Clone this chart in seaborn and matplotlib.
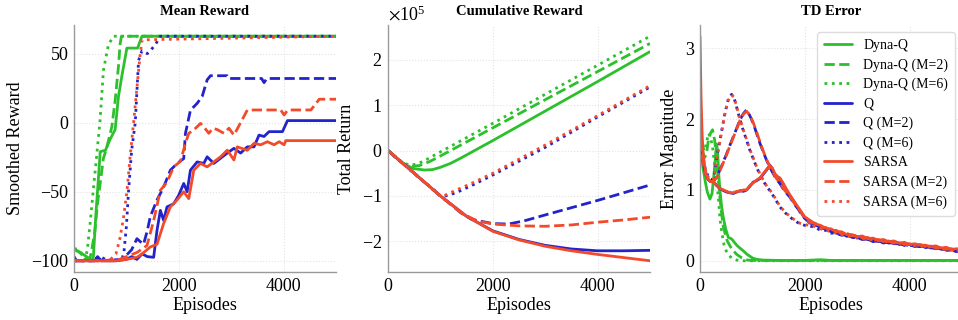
import matplotlib
matplotlib.use("Agg")
import matplotlib.pyplot as plt
import seaborn as sns
from matplotlib.ticker import ScalarFormatter

# ---------------- data ----------------
SERIES = ["Dyna-Q", "Dyna-Q (M=2)", "Dyna-Q (M=6)",
          "Q", "Q (M=2)", "Q (M=6)",
          "SARSA", "SARSA (M=2)", "SARSA (M=6)"]

# Panel 1: Mean Reward (smoothed)
mr_dyna_x = [0, 60, 120, 200, 280, 340, 370, 420, 470, 500, 600, 690, 785, 849, 912, 1009, 1213, 1296, 5000]
mr_dyna_y = [-91, -93, -94, -96, -98, -100, -97, -65, -38, -21, -20, -12, -5, 19, 33.5, 54, 54, 62.6, 62.6]
mr_dyna2_x = [0, 80, 160, 250, 300, 340, 400, 450, 500, 560, 625, 722, 785, 849, 880, 905, 5000]
mr_dyna2_y = [-92, -93, -96, -98, -99, -92, -78, -58, -44, -26, -18, -3, 16, 41, 57, 62.6, 62.6]
mr_dyna6_x = [0, 80, 150, 220, 260, 310, 370, 430, 498, 562, 658, 753, 5000]
mr_dyna6_y = [-91, -92, -95, -99, -90, -72, -48, -25, 2, 38, 56.5, 62.6, 62.6]
mr_q_x = [0, 50, 400, 450, 520, 800, 1000, 1100, 1200, 1300, 1400, 1520, 1584, 1648, 1711, 1775, 1903,
          1998, 2094, 2159, 2222, 2350, 2477, 2541, 2669, 2925, 3052, 3180, 3308, 3435, 3531, 3627,
          3722, 3978, 4074, 5000]
mr_q_y = [-97, -100, -100, -97, -100, -100, -99, -97, -99, -95, -97, -97.5, -78, -63.5, -70.8, -61, -58.7,
          -52.6, -44, -50, -34.4, -28.4, -29.5, -24.7, -29.5, -22, -18.6, -22, -17.5, -17.5, -9, -10,
          -6.5, -6.5, 1.5, 1.5]
mr_q2_x = [0, 400, 450, 520, 900, 1000, 1100, 1201, 1260, 1328, 1400, 1456, 1584, 1711, 1839, 1967, 2094,
           2127, 2222, 2350, 2446, 2541, 2605, 2925, 2950, 3580, 3627, 3680, 5000]
mr_q2_y = [-100, -100, -97, -100, -99, -96, -92, -84, -86, -88, -78, -68, -56, -46.6, -34.4, -29.6, -26,
           -7.7, 9, 14, 19, 31, 34, 34, 32, 32, 29, 32, 32]
mr_q6_x = [0, 300, 500, 600, 900, 950, 1000, 1040, 1100, 1169, 1232, 1296, 1400, 1456, 1560, 1648, 5000]
mr_q6_y = [-100, -100, -97, -99, -100, -95, -75, -50, -20, 0, 45, 52, 50, 52, 57, 62.6, 62.6]
mr_s_x = [0, 800, 1000, 1201, 1300, 1456, 1584, 1711, 1839, 1967, 2094, 2190, 2286, 2414, 2541, 2669,
          2797, 2925, 3052, 3116, 3308, 3435, 3563, 3691, 3818, 3914, 4010, 4042, 5000]
mr_s_y = [-100, -100, -99, -97.5, -95, -90, -88, -73, -61, -56, -50, -55, -34.4, -29.5, -32, -28.4,
          -24.7, -19.9, -27, -17.5, -20, -15, -16, -13.8, -16, -13.8, -16, -13, -13]
mr_s2_x = [0, 800, 1000, 1201, 1392, 1520, 1648, 1775, 1903, 2031, 2127, 2190, 2286, 2414, 2477, 2573,
           2650, 2733, 2861, 2957, 3052, 3180, 3308, 3946, 4010, 4080, 4521, 4681, 5000]
mr_s2_y = [-100, -100, -97, -94, -89, -71, -49, -43, -32, -28, -15, -7.7, -5.3, -0.5, -3, -7.7,
           -4, -5, -7.7, -4, -9, 0, 9.2, 9.2, 5.6, 9.2, 9.2, 17, 17]
mr_s6_x = [0, 500, 700, 800, 870, 940, 1010, 1070, 1137, 1200, 1264, 1300, 5000]
mr_s6_y = [-100, -100, -99, -95, -85, -70, -50, -25, 0, 25, 50, 60, 62.6]

# Panel 2: Cumulative Reward (values in units of 1e5)
cr_dyna_x = [0, 150, 300, 500, 700, 850, 1000, 1200, 1400, 2000, 3000, 4000, 5000]
cr_dyna_y = [0, -0.15, -0.30, -0.40, -0.43, -0.42, -0.37, -0.28, -0.16, 0.22, 0.87, 1.52, 2.18]
cr_dyna2_x = [0, 150, 300, 450, 600, 800, 1000, 2000, 3000, 4000, 5000]
cr_dyna2_y = [0, -0.15, -0.29, -0.35, -0.33, -0.24, -0.12, 0.50, 1.12, 1.74, 2.36]
cr_dyna6_x = [0, 150, 300, 420, 550, 700, 1000, 2000, 3000, 4000, 5000]
cr_dyna6_y = [0, -0.15, -0.28, -0.32, -0.30, -0.22, -0.03, 0.60, 1.24, 1.88, 2.52]
cr_q_x = [0, 500, 1000, 1500, 2000, 2500, 3000, 3500, 4000, 4500, 5000]
cr_q_y = [0, -0.50, -1.00, -1.45, -1.77, -1.96, -2.09, -2.17, -2.21, -2.21, -2.20]
cr_q2_x = [0, 500, 1000, 1400, 1600, 2000, 2300, 2600, 3000, 4000, 5000]
cr_q2_y = [0, -0.50, -1.00, -1.38, -1.52, -1.61, -1.62, -1.55, -1.42, -1.10, -0.76]
cr_q6_x = [0, 500, 1000, 1100, 1300, 1600, 2000, 3000, 4000, 5000]
cr_q6_y = [0, -0.50, -1.00, -1.00, -0.93, -0.77, -0.54, 0.07, 0.74, 1.40]
cr_s_x = [0, 500, 1000, 1500, 2000, 2500, 3000, 3500, 4000, 4500, 5000]
cr_s_y = [0, -0.50, -1.00, -1.45, -1.78, -1.97, -2.11, -2.21, -2.29, -2.36, -2.43]
cr_s2_x = [0, 500, 1000, 1400, 1700, 2000, 2500, 3000, 3500, 4000, 4500, 5000]
cr_s2_y = [0, -0.50, -1.00, -1.38, -1.55, -1.62, -1.66, -1.67, -1.64, -1.58, -1.53, -1.47]
cr_s6_x = [0, 500, 1000, 1080, 1250, 1600, 2000, 3000, 4000, 5000]
cr_s6_y = [0, -0.50, -1.00, -0.99, -0.90, -0.72, -0.50, 0.12, 0.77, 1.43]
CR_SCALE = 1e5

# Panel 3: TD Error
td_tail_x = [2100, 2200, 2300, 2400, 2500, 2600, 2700, 2800, 2900, 3000, 3100, 3200, 3300, 3400, 3500,
             3600, 3700, 3800, 3900, 4000, 4100, 4200, 4300, 4400, 4500, 4600, 4700, 4800, 4900, 5000]
td_dyna_x = [0, 30, 60, 100, 140, 190, 230, 270, 300, 317, 335, 360, 381, 413, 445, 490, 540, 600, 635,
             700, 760, 826, 900, 1000, 1080, 1200, 1500, 2000, 2300, 2500, 3000, 4000, 5000]
td_dyna_y = [1.65, 1.45, 1.30, 1.12, 0.97, 0.87, 0.95, 1.25, 1.50, 1.65, 1.55, 1.20, 0.99, 0.76, 0.61,
             0.45, 0.33, 0.31, 0.28, 0.22, 0.18, 0.14, 0.09, 0.04, 0.02, 0.01, 0.005, 0.005, 0.015,
             0.005, 0.005, 0.005, 0.005]
td_dyna2_x = [0, 40, 80, 120, 160, 200, 240, 280, 320, 360, 400, 440, 480, 520, 580, 640, 700, 800,
              900, 1000, 5000]
td_dyna2_y = [1.75, 1.60, 1.45, 1.50, 1.70, 1.80, 1.85, 1.70, 1.40, 1.05, 0.75, 0.50, 0.38, 0.28,
              0.20, 0.14, 0.09, 0.04, 0.01, 0.005, 0.005]
td_dyna6_x = [0, 40, 80, 120, 160, 200, 240, 280, 320, 350, 380, 420, 460, 500, 560, 620, 700, 800, 5000]
td_dyna6_y = [1.80, 1.65, 1.55, 1.65, 1.80, 1.75, 1.60, 1.35, 1.10, 0.90, 0.60, 0.38, 0.22, 0.14,
              0.07, 0.03, 0.01, 0.0, 0.0]
td_q_x = [0, 30, 60, 100, 150, 200, 254, 320, 381, 450, 508, 570, 635, 700, 762, 830, 889, 950, 1016,
          1080, 1143, 1206, 1270, 1333, 1380, 1429, 1480, 1524, 1590, 1651, 1715, 1778, 1840, 1905, 2000]
td_q_y = [1.95, 1.60, 1.40, 1.25, 1.15, 1.12, 1.12, 1.06, 1.02, 0.99, 0.97, 0.96, 0.95, 0.97, 0.99,
          0.98, 1.00, 1.05, 1.11, 1.13, 1.16, 1.22, 1.28, 1.35, 1.30, 1.21, 1.18, 1.16, 1.08, 0.99,
          0.92, 0.85, 0.78, 0.71, 0.60]
td_q_tail = [0.53, 0.52, 0.46, 0.46, 0.41, 0.41, 0.36, 0.37, 0.33, 0.34, 0.30, 0.31, 0.27, 0.29, 0.25,
             0.27, 0.24, 0.25, 0.22, 0.23, 0.20, 0.22, 0.19, 0.20, 0.17, 0.18, 0.15, 0.16, 0.13, 0.13]
td_q2_x = [0, 30, 60, 100, 150, 200, 254, 330, 420, 508, 570, 635, 700, 762, 830, 889, 950, 1016, 1080,
           1143, 1206, 1270, 1333, 1397, 1460, 1524, 1620, 1714, 1800, 1873, 1950, 2000]
td_q2_y = [1.95, 1.60, 1.40, 1.25, 1.15, 1.12, 1.12, 1.20, 1.35, 1.51, 1.63, 1.75, 1.87, 1.99, 2.08,
           2.13, 2.05, 1.94, 1.80, 1.66, 1.54, 1.42, 1.32, 1.23, 1.15, 1.09, 0.98, 0.90, 0.80, 0.73,
           0.64, 0.60]
td_q2_tail = [0.56, 0.50, 0.49, 0.44, 0.43, 0.39, 0.39, 0.35, 0.35, 0.32, 0.33, 0.29, 0.30, 0.27, 0.28,
              0.25, 0.26, 0.23, 0.24, 0.21, 0.22, 0.20, 0.21, 0.18, 0.19, 0.16, 0.17, 0.14, 0.15, 0.12]
td_q6_x = [0, 30, 60, 100, 150, 200, 254, 286, 330, 381, 430, 480, 540, 603, 650, 698, 760, 825, 890,
           952, 1016, 1079, 1143, 1206, 1270, 1333, 1430, 1524, 1650, 1780, 1905, 2000]
td_q6_y = [1.95, 1.65, 1.45, 1.30, 1.20, 1.15, 1.15, 1.28, 1.50, 1.70, 1.90, 2.10, 2.28, 2.35, 2.30,
           2.17, 2.00, 1.84, 1.70, 1.56, 1.44, 1.32, 1.22, 1.13, 1.05, 0.99, 0.88, 0.76, 0.66, 0.58,
           0.52, 0.50]
td_q6_tail = [0.49, 0.47, 0.43, 0.43, 0.39, 0.39, 0.36, 0.35, 0.33, 0.33, 0.30, 0.30, 0.28, 0.28, 0.26,
              0.26, 0.24, 0.24, 0.22, 0.22, 0.21, 0.20, 0.19, 0.19, 0.17, 0.17, 0.15, 0.15, 0.13, 0.12]
td_s_x = [0, 20, 40, 60, 100, 150, 200, 254, 320, 381, 450, 508, 570, 635, 700, 762, 830, 889, 950,
          1016, 1080, 1143, 1206, 1270, 1333, 1380, 1429, 1480, 1524, 1590, 1651, 1715, 1778, 1840,
          1905, 2000]
td_s_y = [3.17, 2.30, 1.80, 1.50, 1.27, 1.16, 1.12, 1.11, 1.07, 1.02, 1.00, 0.98, 0.96, 0.96, 0.98,
          0.98, 1.00, 1.00, 1.06, 1.10, 1.14, 1.17, 1.23, 1.29, 1.34, 1.31, 1.23, 1.19, 1.17, 1.09,
          1.01, 0.93, 0.86, 0.79, 0.72, 0.62]
td_s_tail = [0.57, 0.52, 0.50, 0.46, 0.45, 0.41, 0.41, 0.37, 0.37, 0.34, 0.35, 0.31, 0.32, 0.29, 0.30,
             0.27, 0.28, 0.25, 0.26, 0.23, 0.24, 0.22, 0.22, 0.20, 0.21, 0.18, 0.19, 0.16, 0.17, 0.15]
td_s2_x = [0, 30, 60, 100, 150, 200, 254, 330, 420, 508, 570, 635, 700, 762, 830, 889, 950, 1016, 1080,
           1143, 1206, 1270, 1333, 1397, 1460, 1524, 1620, 1714, 1800, 1873, 1950, 2000]
td_s2_y = [1.90, 1.58, 1.38, 1.24, 1.15, 1.11, 1.12, 1.19, 1.34, 1.50, 1.62, 1.74, 1.86, 1.98, 2.07,
           2.11, 2.06, 1.95, 1.82, 1.68, 1.55, 1.43, 1.33, 1.24, 1.16, 1.10, 0.99, 0.91, 0.81, 0.74,
           0.66, 0.61]
td_s2_tail = [0.54, 0.53, 0.47, 0.47, 0.42, 0.43, 0.38, 0.39, 0.35, 0.36, 0.32, 0.33, 0.29, 0.30, 0.27,
              0.28, 0.25, 0.26, 0.23, 0.24, 0.21, 0.23, 0.20, 0.21, 0.18, 0.19, 0.16, 0.17, 0.14, 0.14]
td_s6_x = [0, 30, 60, 100, 150, 200, 254, 286, 330, 381, 430, 480, 540, 603, 650, 698, 760, 825, 890,
           952, 1016, 1079, 1143, 1206, 1270, 1333, 1430, 1524, 1650, 1780, 1905, 2000]
td_s6_y = [1.92, 1.63, 1.44, 1.29, 1.19, 1.14, 1.14, 1.27, 1.49, 1.69, 1.89, 2.09, 2.27, 2.34, 2.31,
           2.18, 2.01, 1.85, 1.71, 1.57, 1.45, 1.33, 1.23, 1.14, 1.06, 1.00, 0.89, 0.77, 0.67, 0.59,
           0.53, 0.51]
td_s6_tail = [0.50, 0.48, 0.45, 0.43, 0.41, 0.39, 0.37, 0.36, 0.34, 0.33, 0.31, 0.31, 0.29, 0.28, 0.27,
              0.27, 0.25, 0.25, 0.23, 0.23, 0.21, 0.21, 0.20, 0.19, 0.18, 0.17, 0.16, 0.15, 0.14, 0.13]

TITLES = ["Mean Reward", "Cumulative Reward", "TD Error"]
YLABELS = ["Smoothed Reward", "Total Return", "Error Magnitude"]
XLABEL = "Episodes"
X_TICKS = [0, 2000, 4000]
Y_TICKS = [[-100, -50, 0, 50], [-2e5, -1e5, 0, 1e5, 2e5], [0, 1, 2, 3]]

# ---------------- styling ----------------
GREEN, BLUE, RED = "#2cc02c", "#2323cc", "#f24a2a"
COLORS = [GREEN] * 3 + [BLUE] * 3 + [RED] * 3
STYLES = ["-", "--", ":"] * 3

sns.set_theme(style="whitegrid", rc={
    "grid.color": "#e3e3e3", "grid.linestyle": ":", "grid.linewidth": 0.8,
    "axes.edgecolor": "#9a9a9a", "axes.linewidth": 1.0,
    "xtick.major.size": 0, "ytick.major.size": 0,
    "text.color": "black", "axes.labelcolor": "black",
    "xtick.color": "black", "ytick.color": "black",
})
plt.rcParams["font.family"] = ["Liberation Serif", "DejaVu Serif"]
plt.rcParams["mathtext.fontset"] = "stix"
plt.rcParams["axes.unicode_minus"] = True

W, H = 958, 320
fig = plt.figure(figsize=(W / 100, H / 100), dpi=100)
lefts = [74, 388, 700]
axes = [fig.add_axes([l / W, 48 / H, 262 / W, 247 / H]) for l in lefts]

panel_data = [
    [(mr_dyna_x, mr_dyna_y), (mr_dyna2_x, mr_dyna2_y), (mr_dyna6_x, mr_dyna6_y),
     (mr_q_x, mr_q_y), (mr_q2_x, mr_q2_y), (mr_q6_x, mr_q6_y),
     (mr_s_x, mr_s_y), (mr_s2_x, mr_s2_y), (mr_s6_x, mr_s6_y)],
    [(x, [v * CR_SCALE for v in y]) for (x, y) in
     [(cr_dyna_x, cr_dyna_y), (cr_dyna2_x, cr_dyna2_y), (cr_dyna6_x, cr_dyna6_y),
      (cr_q_x, cr_q_y), (cr_q2_x, cr_q2_y), (cr_q6_x, cr_q6_y),
      (cr_s_x, cr_s_y), (cr_s2_x, cr_s2_y), (cr_s6_x, cr_s6_y)]],
    [(td_dyna_x, td_dyna_y), (td_dyna2_x, td_dyna2_y), (td_dyna6_x, td_dyna6_y),
     (td_q_x + td_tail_x, td_q_y + td_q_tail), (td_q2_x + td_tail_x, td_q2_y + td_q2_tail),
     (td_q6_x + td_tail_x, td_q6_y + td_q6_tail),
     (td_s_x + td_tail_x, td_s_y + td_s_tail), (td_s2_x + td_tail_x, td_s2_y + td_s2_tail),
     (td_s6_x + td_tail_x, td_s6_y + td_s6_tail)],
]

for pi, ax in enumerate(axes):
    for si, (x, y) in enumerate(panel_data[pi]):
        sns.lineplot(x=x, y=y, ax=ax, color=COLORS[si], linestyle=STYLES[si],
                     linewidth=2.0, label=SERIES[si] if pi == 2 else None,
                     legend=False, estimator=None, sort=False)
    ax.set_xlim(0, 5000)
    ax.set_xticks(X_TICKS)
    ax.set_yticks(Y_TICKS[pi])
    ax.set_title(TITLES[pi], fontsize=10.5, fontweight="bold", pad=7)
    ax.set_xlabel(XLABEL, fontsize=13, labelpad=2)
    ax.set_ylabel(YLABELS[pi], fontsize=13, labelpad=5)
    ax.tick_params(labelsize=13, pad=4)
    for side in ["top", "right"]:
        ax.spines[side].set_visible(False)
    ax.set_facecolor("white")

fmt = ScalarFormatter(useMathText=True)
fmt.set_powerlimits((0, 0))
axes[1].yaxis.set_major_formatter(fmt)
axes[1].yaxis.get_offset_text().set_fontsize(13)

axes[2].legend(loc="upper right", fontsize=10, handlelength=2.0, frameon=True,
               fancybox=True, framealpha=1.0, edgecolor="#dddddd", borderpad=0.5,
               labelspacing=0.45)

fig.savefig("out.png", dpi=100, facecolor="white")
